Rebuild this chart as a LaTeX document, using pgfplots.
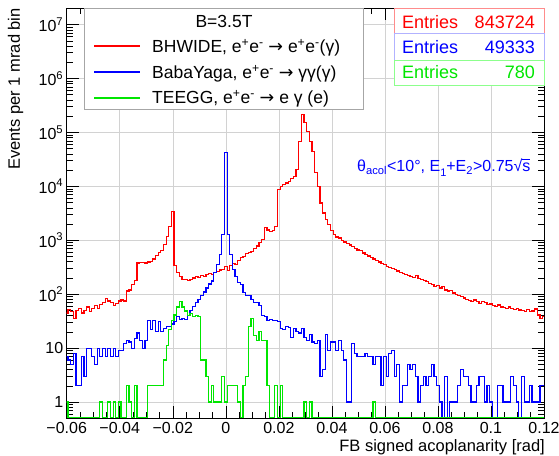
\documentclass[border=0pt]{standalone}
\usepackage{fontspec}
\setmainfont{Liberation Sans}
\newfontfamily\dejavu{DejaVu Sans}
\usepackage{pgfplots}
\usepackage{pgfplotstable}
\pgfplotsset{compat=1.18}
\definecolor{rootred}{RGB}{255,0,0}
\definecolor{rootblue}{RGB}{0,0,255}
\definecolor{rootgreen}{RGB}{0,230,0}
\newcommand{\arr}{{\dejavu →}}
\newcommand{\ep}{e\textsuperscript{+}e\textsuperscript{-}}

% k = bin centre in mrad; r = BHWIDE, b = BabaYaga, g = TEEGG
\pgfplotstableread{
k r b g
-60 45 7 1
-59 52 6 0
-58 48 5 0
-57 35 8 0
-56 50 2 0
-55 55 2 0
-54 45 7 0
-53 50 3 0
-52 58 10 0
-51 48 10 0
-50 55 7 0
-49 62 5 0
-48 55 10 0
-47 65 7 1
-46 70 10 0
-45 82 7 0
-44 75 10 1
-43 70 7 0
-42 62 10 1
-41 68 7 0
-40 75 9 1
-39 78 9 0
-38 75 12 0
-37 115 14 2
-36 120 13 1
-35 150 10 0
-34 180 15 2
-33 380 19 0
-32 390 14 0
-31 385 10 0
-30 380 14 0
-29 395 32 2
-28 410 22 2
-27 450 33 2
-26 520 20 2
-25 590 31 2
-24 640 20 2
-23 830 23 6
-22 1180 25 11
-21 1800 25 22
-20 3400 28 33
-19 345 31 41
-18 250 39 58
-17 210 34 74
-16 190 36 58
-15 185 34 49
-14 180 40 40
-13 190 50 44
-12 200 60 38
-11 210 70 40
-10 205 80 38
-9 220 93 6
-8 215 110 6
-7 230 130 3
-6 240 155 1
-5 235 175 2
-4 250 250 1
-3 260 355 1
-2 280 545 1
-1 290 1270 3
0 330 42500 1
1 275 1270 2
2 340 545 2
3 370 290 2
4 360 215 2
5 420 163 1
6 480 150 0
7 500 107 2
8 560 93 3
9 600 93 25
10 620 80 36
11 700 69 17
12 780 69 14
13 900 62 20
14 1050 40 14
15 1700 38 14
16 1550 33 2
17 1450 34 0
18 1500 32 0
19 1800 33 2
20 8700 31 0
21 10000 23 2
22 10800 22 0
23 11500 25 0
24 12500 24 0
25 14000 16 0
26 15000 23 0
27 20400 20 0
28 68000 19 0
29 213000 23 0
30 150000 16 1
31 104000 14 0
32 68000 18 1
33 44000 13 0
34 18000 12 0
35 10000 14 0
36 4900 3 0
37 3200 4 0
38 2400 18 0
39 1950 9 0
40 1500 13 0
41 1300 13 0
42 1150 9 0
43 1100 14 0
44 1000 9 0
45 930 6 0
46 870 1 0
47 820 1 0
48 760 12 0
49 700 8 0
50 660 7 0
51 640 7 0
52 580 7 0
53 540 8 0
54 510 7 0
55 480 7 0
56 450 5 1
57 420 7 0
58 395 7 0
59 370 2 0
60 350 7 0
61 330 3 0
62 315 8 0
63 300 9 0
64 285 3 0
65 270 5 0
66 255 1 0
67 245 2 0
68 235 2 0
69 225 5 0
70 215 4 0
71 205 5 0
72 225 3 0
73 195 1 0
74 185 2 0
75 178 3 0
76 170 2 0
77 160 3 0
78 150 5 0
79 140 3 0
80 145 2 0
81 130 1 0
82 138 0 0
83 120 3 0
84 115 0 0
85 118 1 0
86 105 1 0
87 100 1 0
88 95 2 0
89 90 4 0
90 85 3 0
91 80 3 0
92 76 2 0
93 74 1 0
94 78 1 0
95 72 2 0
96 68 3 0
97 72 3 0
98 70 1 0
99 64 2 0
100 66 1 0
101 62 0 0
102 60 0 0
103 63 2 0
104 58 2 0
105 56 1 0
106 54 1 0
107 58 1 0
108 54 3 0
109 52 2 0
110 54 1 0
111 51 0 0
112 50 3 0
113 48 1 0
114 52 1 0
115 47 2 0
116 49 1 0
117 53 1 0
118 41 1 0
119 35 2 0
120 38 2 0
121 38 2 0
}\histdata

\begin{document}
\begin{tikzpicture}[x=1pt,y=1pt]
\useasboundingbox (0,0) rectangle (559,455);
\begin{axis}[
  at={(66.7pt,36.7pt)}, anchor=south west,
  scale only axis, width=477.3pt, height=410pt,
  xmin=-60, xmax=120,
  ymode=log, ymin=0.5, ymax=2e7,
  xtick={-60,-40,-20,0,20,40,60,80,100,120},
  xticklabels={−0.06,−0.04,−0.02,0,0.02,0.04,0.06,0.08,0.1,0.12},
  minor x tick num=3,
  ytick={1,10,100,1000,10000,100000,1000000,10000000},
  yticklabels={1,10,10\textsuperscript{2},10\textsuperscript{3},10\textsuperscript{4},10\textsuperscript{5},10\textsuperscript{6},10\textsuperscript{7}},
  minor ytick={0.6,0.7,0.8,0.9,2,3,4,5,6,7,8,9,20,30,40,50,60,70,80,90,200,300,400,500,600,700,800,900,2000,3000,4000,5000,6000,7000,8000,9000,20000,30000,40000,50000,60000,70000,80000,90000,200000,300000,400000,500000,600000,700000,800000,900000,2000000,3000000,4000000,5000000,6000000,7000000,8000000,9000000},
  grid=major,
  major grid style={gray!35, line width=0.5pt},
  minor grid style={draw=none},
  tick style={black, line width=0.5pt},
  major tick length=12pt, minor tick length=6pt,
  axis line style={line width=0.6pt},
  ticklabel style={font=\fontsize{16}{16}\selectfont},
  /pgf/number format/assume math mode=true,
]
\addplot[const plot, color=rootred, line width=1.2pt] table[x expr=\thisrow{k}-0.5, y=r] {\histdata};
\addplot[const plot, color=rootblue, line width=1.2pt] table[x expr=\thisrow{k}-0.5, y expr={max(\thisrow{b},0.52)}] {\histdata};
\addplot[const plot, color=rootgreen, line width=1.2pt] table[x expr=\thisrow{k}-0.5, y expr={max(\thisrow{g},0.52)}] {\histdata};
\end{axis}

% legend box and line samples
\draw[gray!70, fill=white, line width=0.6pt] (84,446.7) rectangle (363,346);
\fill[rootred] (94,408) rectangle (140,410);
\fill[rootblue] (94,382) rectangle (140,384);
\fill[rootgreen] (94,356) rectangle (140,358);

% statistics boxes
\draw[red!45, fill=white, line width=0.6pt] (394,446.7) rectangle (544,421.3);
\draw[blue!30, fill=white, line width=0.6pt] (394,421.3) rectangle (544,395);
\draw[green!45, fill=white, line width=0.6pt] (394,395) rectangle (544,370);

% y and x axis titles
\node[rotate=90, anchor=base east, inner sep=0pt, font=\fontsize{16.5}{16.5}\selectfont] at (20,447) {Events per 1 mrad bin};
\node[anchor=base east, inner sep=0pt, font=\fontsize{16.5}{16.5}\selectfont] at (545,3.8) {FB signed acoplanarity [rad]};

% legend texts
\node[anchor=base, inner sep=0pt, font=\fontsize{17.5}{17.5}\selectfont] at (224,427.7) {B=3.5T};
\node[anchor=base west, inner sep=0pt, font=\fontsize{17.5}{17.5}\selectfont] at (152,402.3) {BHWIDE, \ep\ \arr\ \ep(γ)};
\node[anchor=base west, inner sep=0pt, font=\fontsize{17.5}{17.5}\selectfont] at (152,376.7) {BabaYaga, \ep\ \arr\ γγ(γ)};
\node[anchor=base west, inner sep=0pt, font=\fontsize{17.5}{17.5}\selectfont] at (152,351) {TEEGG, \ep\ \arr\ e γ (e)};

% statistics texts
\node[anchor=base west, inner sep=0pt, text=rootred, font=\fontsize{18}{18}\selectfont] at (402,426.7) {Entries};
\node[anchor=base east, inner sep=0pt, text=rootred, font=\fontsize{18}{18}\selectfont] at (535,426.7) {843724};
\node[anchor=base west, inner sep=0pt, text=rootblue, font=\fontsize{18}{18}\selectfont] at (402,401.7) {Entries};
\node[anchor=base east, inner sep=0pt, text=rootblue, font=\fontsize{18}{18}\selectfont] at (535,401.7) {49333};
\node[anchor=base west, inner sep=0pt, text=rootgreen, font=\fontsize{18}{18}\selectfont] at (402,376) {Entries};
\node[anchor=base east, inner sep=0pt, text=rootgreen, font=\fontsize{18}{18}\selectfont] at (535,376) {780};

% cut annotation
\node[anchor=base west, inner sep=0pt, text=rootblue, font=\fontsize{16}{16}\selectfont] at (357,283.3)
  {θ\textsubscript{acol}<10°, E\raisebox{-0.55ex}{\fontsize{11}{11}\selectfont 1}+E\textsubscript{2}>0.75√\makebox[0pt][l]{\rule[0.78em]{0.5em}{0.5pt}}s};
\end{tikzpicture}
\end{document}
